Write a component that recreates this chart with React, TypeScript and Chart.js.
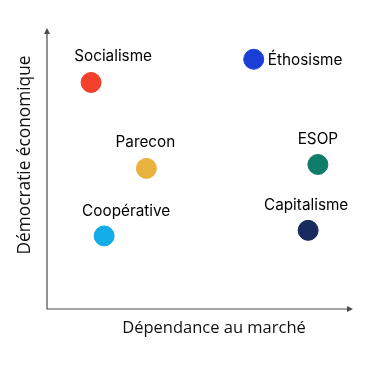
import React, { useEffect, useRef } from "react";
import { Chart, registerables } from "chart.js";

Chart.register(...registerables);

const names = ["Socialisme", "Éthosisme", "Parecon", "ESOP", "Coopérative", "Capitalisme"];
const marketDependence = [14.5, 68.0, 32.7, 89.1, 18.8, 85.9];
const economicDemocracy = [81.2, 89.5, 50.4, 51.8, 26.2, 28.2];
const colors = ["#F2402A", "#1A3ED6", "#E9B13E", "#0F7C6A", "#12ADE8", "#172B60"];
const xTitle = "Dépendance au marché";
const yTitle = "Démocratie économique";

// label placement: dx/dy pixel offsets relative to point, align
const labelPlacement = [
  { dx: 22, dy: -26, align: "center" },
  { dx: 14, dy: 1, align: "left" },
  { dx: -1, dy: -26, align: "center" },
  { dx: 0, dy: -25, align: "center" },
  { dx: 22, dy: -25, align: "center" },
  { dx: -2, dy: -25, align: "center" },
];

const overlayPlugin = {
  id: "overlay",
  afterDatasetsDraw(chart: any) {
    const { ctx, chartArea } = chart;
    const { left, right, top, bottom } = chartArea;
    ctx.save();
    // axes
    ctx.strokeStyle = "#4a4a4a";
    ctx.fillStyle = "#4a4a4a";
    ctx.lineWidth = 1.2;
    ctx.beginPath();
    ctx.moveTo(left, top + 1);
    ctx.lineTo(left, bottom);
    ctx.lineTo(right - 1, bottom);
    ctx.stroke();
    // arrows
    ctx.beginPath();
    ctx.moveTo(left, top - 2);
    ctx.lineTo(left - 3, top + 4);
    ctx.lineTo(left + 3, top + 4);
    ctx.closePath();
    ctx.fill();
    ctx.beginPath();
    ctx.moveTo(right + 2, bottom);
    ctx.lineTo(right - 4, bottom - 3);
    ctx.lineTo(right - 4, bottom + 3);
    ctx.closePath();
    ctx.fill();
    // axis titles
    ctx.fillStyle = "#111";
    ctx.font = "16.5px 'Open Sans'";
    ctx.textAlign = "center";
    ctx.textBaseline = "middle";
    ctx.fillText(xTitle, 214, bottom + 19);
    ctx.save();
    ctx.translate(25, 155);
    ctx.rotate(-Math.PI / 2);
    ctx.font = "17.3px 'Open Sans'";
    ctx.fillText(yTitle, 0, 0);
    ctx.restore();
    // point labels
    const meta = chart.getDatasetMeta(0);
    ctx.font = "15.3px Inter";
    ctx.fillStyle = "#000";
    meta.data.forEach((pt: any, i: number) => {
      const p = labelPlacement[i];
      ctx.textAlign = p.align;
      ctx.fillText(names[i], pt.x + p.dx, pt.y + p.dy);
    });
    ctx.restore();
  },
};

export default function App() {
  const ref = useRef<HTMLCanvasElement>(null);
  useEffect(() => {
    if (!ref.current) return;
    const chart = new Chart(ref.current, {
      type: "scatter",
      data: {
        datasets: [
          {
            data: names.map((_, i) => ({ x: marketDependence[i], y: economicDemocracy[i] })),
            backgroundColor: colors,
            borderColor: colors,
            pointRadius: 10,
            pointHoverRadius: 10,
          },
        ],
      },
      options: {
        animation: false,
        responsive: false,
        layout: { padding: { left: 47, top: 30, right: 24, bottom: 57 } },
        plugins: { legend: { display: false }, tooltip: { enabled: false } },
        scales: {
          x: { min: 0, max: 100, display: false },
          y: { min: 0, max: 100, display: false },
        },
      },
      plugins: [overlayPlugin],
    });
    return () => chart.destroy();
  }, []);
  return (
    <div style={{ position: "fixed", left: 0, top: 0, width: 375, height: 366, background: "#fff" }}>
      <canvas ref={ref} width={375} height={366} />
    </div>
  );
}
